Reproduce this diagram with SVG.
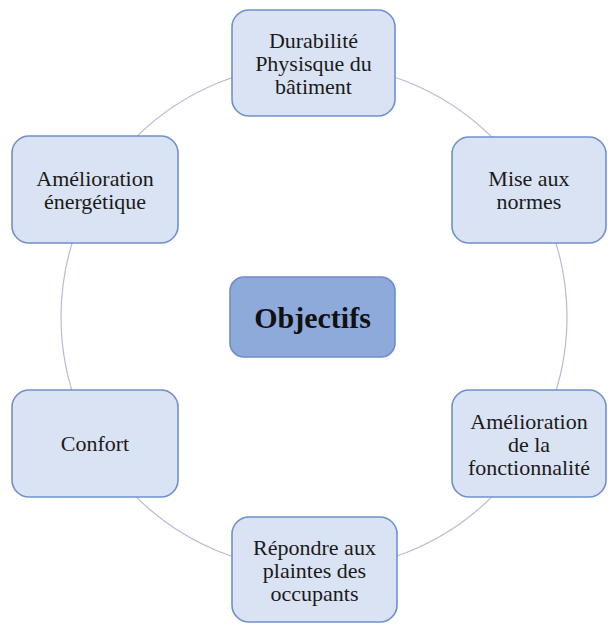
<svg xmlns="http://www.w3.org/2000/svg" width="608" height="624" viewBox="0 0 608 624">
<style>
.box{fill:#dae3f3;stroke:#7090cc;stroke-width:1.6}
.center{fill:#8eaadb;stroke:#6f8ccb;stroke-width:1.6}
.t{font-size:22px;fill:#1a1a1a;text-anchor:middle}
.tb{font-size:30px;font-weight:bold;fill:#111;text-anchor:middle}
.conn{fill:none;stroke:#b6bad6;stroke-width:1.2}
</style>
<rect width="608" height="624" fill="#ffffff"/>
<g id="connectors">
<circle class="conn" cx="314" cy="317" r="253"/>
</g>
<g font-family="Liberation Serif, Times New Roman, DejaVu Serif, serif">
<g id="node-center">
<rect class="center" x="230" y="277" width="165" height="80" rx="14"/>
<text class="tb" x="312.5" y="328">Objectifs</text>
</g>
<g id="node-durabilite">
<rect class="box" x="232" y="10" width="163" height="106" rx="17"/>
<text class="t" x="313.5" y="47.5">Durabilité</text>
<text class="t" x="313.5" y="70.5">Physisque du</text>
<text class="t" x="313.5" y="93.5">bâtiment</text>
</g>
<g id="node-normes">
<rect class="box" x="452" y="137" width="154" height="106" rx="17"/>
<text class="t" x="529" y="186">Mise aux</text>
<text class="t" x="529" y="209">normes</text>
</g>
<g id="node-fonctionnalite">
<rect class="box" x="452" y="390" width="154" height="107" rx="17"/>
<text class="t" x="529" y="429">Amélioration</text>
<text class="t" x="529" y="452">de la</text>
<text class="t" x="529" y="475">fonctionnalité</text>
</g>
<g id="node-plaintes">
<rect class="box" x="232" y="517" width="165" height="105" rx="17"/>
<text class="t" x="314.5" y="555">Répondre aux</text>
<text class="t" x="314.5" y="578">plaintes des</text>
<text class="t" x="314.5" y="601">occupants</text>
</g>
<g id="node-confort">
<rect class="box" x="12" y="390" width="166" height="107" rx="17"/>
<text class="t" x="95" y="451">Confort</text>
</g>
<g id="node-energetique">
<rect class="box" x="12" y="136" width="166" height="107" rx="17"/>
<text class="t" x="95" y="185.5">Amélioration</text>
<text class="t" x="95" y="208.5">énergétique</text>
</g>
</g>
</svg>
